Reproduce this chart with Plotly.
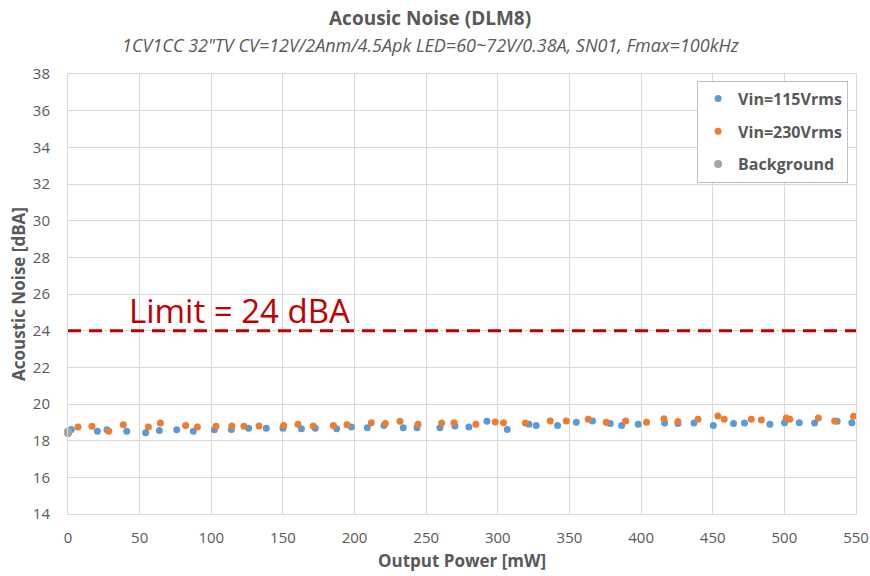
import plotly.graph_objects as go

# Vin = 115 Vrms
p115 = [2.3, 20.5, 27.2, 41, 54.2, 63.8, 75.9, 87.5, 102.2, 114, 126.1, 138.4, 150, 162.9,
        172.6, 187.5, 197.8, 208.9, 220.5, 234, 243.6, 259.6, 270.1, 279.8, 292.4, 306.6,
        321.7, 326.8, 341.7, 354.8, 366.1, 378.5, 386.4, 398, 416.4, 425.7, 436.9, 450.4,
        464.5, 472.2, 489.9, 500.1, 510.4, 521.1, 536.9, 547.1]
n115 = [18.61, 18.52, 18.59, 18.52, 18.43, 18.56, 18.59, 18.52, 18.59, 18.61, 18.68, 18.68,
        18.68, 18.65, 18.68, 18.65, 18.74, 18.7, 18.83, 18.7, 18.7, 18.7, 18.8, 18.74,
        19.06, 18.61, 18.89, 18.83, 18.83, 19.0, 19.07, 18.94, 18.83, 18.89, 18.96, 18.93,
        18.96, 18.83, 18.93, 18.96, 18.89, 18.98, 18.98, 18.96, 19.06, 18.98]

# Vin = 230 Vrms
p230 = [7, 16.7, 28.4, 38.6, 56.1, 64.5, 82.1, 90.3, 103.3, 114.4, 122.8, 133.3, 150.5,
        160.5, 171.2, 185.2, 194.7, 211.7, 221.5, 231.7, 244.3, 260.8, 269.4, 284.7, 298.2,
        304, 319.2, 336.6, 347.8, 363.1, 375.7, 389.2, 403.8, 416, 425.7, 439.7, 453.6,
        458, 476.9, 483.9, 501.3, 503.8, 523.7, 535.1, 548.3]
n230 = [18.74, 18.78, 18.52, 18.87, 18.74, 18.96, 18.83, 18.74, 18.78, 18.8, 18.78, 18.8,
        18.83, 18.89, 18.8, 18.83, 18.87, 18.98, 18.93, 19.06, 18.89, 18.96, 18.98, 18.89,
        19.02, 18.98, 18.96, 19.07, 19.07, 19.17, 19.0, 19.07, 19.0, 19.2, 19.04, 19.17,
        19.35, 19.17, 19.17, 19.13, 19.24, 19.17, 19.24, 19.07, 19.33]

# Background
pbg = [0, 0, 0]
nbg = [18.4, 18.45, 18.5]

limit = 24
x_range = [0, 550]
y_range = [14, 38]

FONT = "Open Sans"
GREY = "#595959"

W, H = 870, 576
ML, MR, MT, MB = 68, 14, 74, 62
PH = H - MT - MB
TX = (430 - ML) / (W - ML - MR)  # titles are centred on the page, not the plot

fig = go.Figure()
fig.add_trace(go.Scatter(x=p115, y=n115, mode="markers", name="Vin=115Vrms",
                         legendgroup="a", marker=dict(color="#5B9BD5", size=7)))
fig.add_trace(go.Scatter(x=p230, y=n230, mode="markers", name="Vin=230Vrms",
                         legendgroup="b", marker=dict(color="#ED7D31", size=7)))
fig.add_trace(go.Scatter(x=pbg, y=nbg, mode="markers", name="Background",
                         legendgroup="c", cliponaxis=False,
                         marker=dict(color="#A5A5A5", size=8)))

fig.add_shape(type="line", x0=x_range[0], x1=x_range[1], y0=limit, y1=limit,
              line=dict(color="#C00000", width=3, dash="13px,8px"))
fig.add_annotation(x=41, y=limit, text="Limit = 24 dBA", showarrow=False,
                   xanchor="left", yanchor="bottom", yshift=-4,
                   font=dict(family=FONT, size=33, color="#C00000"))

# title + subtitle, placed in pixel terms above the plot area
fig.add_annotation(x=TX, y=1 + (MT - 18) / PH, xref="paper", yref="paper",
                   yanchor="middle", showarrow=False,
                   text="<b>Acousic Noise (DLM8)</b>",
                   font=dict(family=FONT, size=19, color=GREY))
fig.add_annotation(x=TX, y=1 + (MT - 45) / PH, xref="paper", yref="paper",
                   yanchor="middle", showarrow=False,
                   text="<i>1CV1CC 32\"TV CV=12V/2Anm/4.5Apk LED=60~72V/0.38A, SN01, Fmax=100kHz</i>",
                   font=dict(family=FONT, size=18, color=GREY))

fig.update_layout(
    width=W, height=H,
    margin=dict(l=ML, r=MR, t=MT, b=MB),
    plot_bgcolor="white", paper_bgcolor="white",
    font=dict(family=FONT, color=GREY, size=15),
    showlegend=True,
    legend=dict(x=0.99, y=0.985, xanchor="right", yanchor="top",
                bgcolor="white", bordercolor="#BFBFBF", borderwidth=1,
                font=dict(family=FONT, size=16, color=GREY, weight="bold"),
                itemsizing="trace", tracegroupgap=9),
)

fig.update_xaxes(range=x_range, dtick=50, showgrid=True, gridcolor="#D9D9D9",
                 zeroline=False, showline=True, linecolor="#D9D9D9", mirror=True,
                 ticks="", tickfont=dict(size=15, color=GREY), ticklabelstandoff=10,
                 automargin=False,
                 title=dict(text="<b>Output Power [mW]</b>",
                            font=dict(size=17, color=GREY), standoff=9))
fig.update_yaxes(range=y_range, dtick=2, showgrid=True, gridcolor="#D9D9D9",
                 zeroline=False, showline=True, linecolor="#D9D9D9", mirror=True,
                 ticks="", tickfont=dict(size=15, color=GREY), ticklabelstandoff=14,
                 automargin=False,
                 title=dict(text="<b>Acoustic Noise [dBA]</b>",
                            font=dict(size=17, color=GREY), standoff=2))

# drop the default 8px page margin so the figure sits at the top-left corner
fig.write_html("out.html", config={"displayModeBar": False},
               post_script="document.body.style.margin='0';")
